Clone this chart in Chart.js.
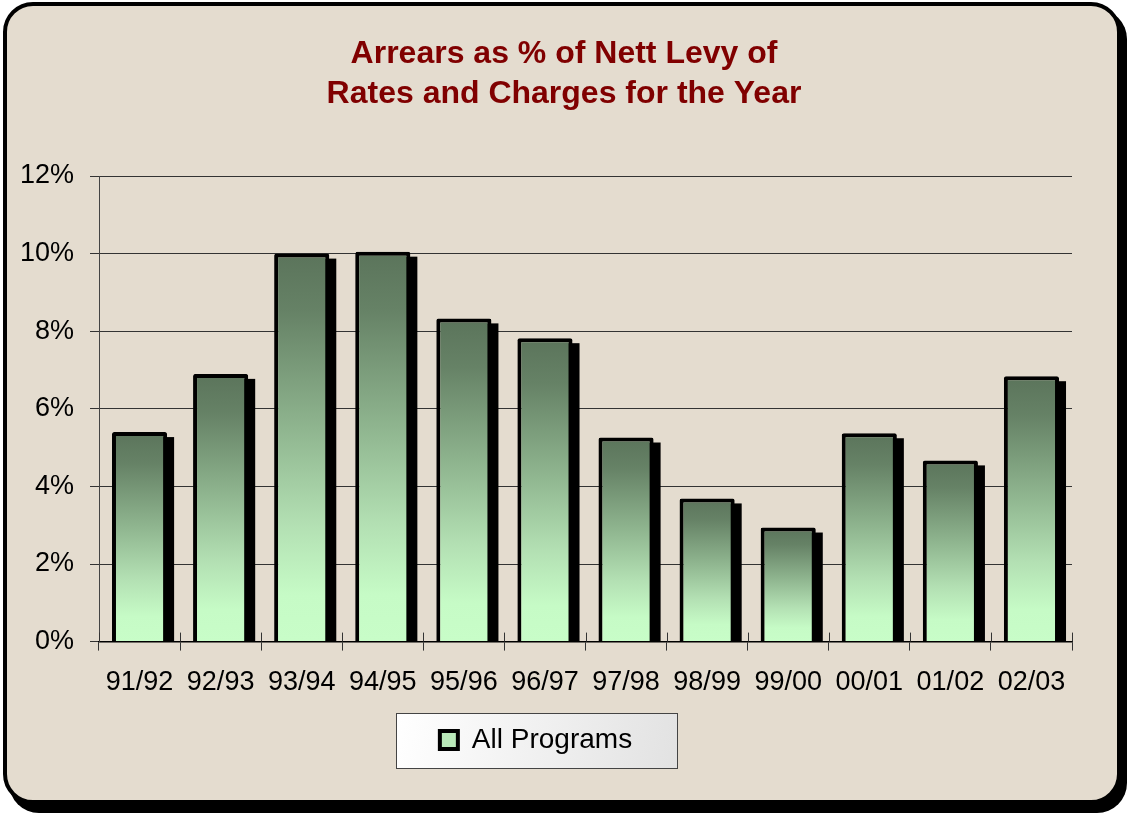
<!DOCTYPE html>
<html>
<head>
<meta charset="utf-8">
<script src="https://cdn.jsdelivr.net/npm/chart.js@4.4.1/dist/chart.umd.min.js"></script>
<style>
  html, body { margin: 0; padding: 0; background: #fff; }
  #wrap { position: relative; width: 1130px; height: 814px; }
</style>
</head>
<body>
<div id="wrap"><canvas id="arrears-chart"></canvas></div>
<script>
// data (percent)
const years = ['91/92', '92/93', '93/94', '94/95', '95/96', '96/97', '97/98', '98/99', '99/00', '00/01', '01/02', '02/03'];
const arrearsPct = [5.4, 6.9, 10.0, 10.05, 8.33, 7.82, 5.26, 3.69, 2.94, 5.37, 4.67, 6.84];
const yTicks = [0, 2, 4, 6, 8, 10, 12];
const seriesName = 'All Programs';
const titleLines = ['Arrears as % of Nett Levy of', 'Rates and Charges for the Year'];

const FONT = '"Liberation Sans", Arial, sans-serif';
const LIGHT_GREEN = '#c6fbc6';

// dark green at top fading to mint at the bottom, per bar
function barGradient(context) {
    const chart = context.chart;
    if (!chart.chartArea || context.dataIndex === undefined) return LIGHT_GREEN;
    const yScale = chart.scales.y;
    const top = yScale.getPixelForValue(context.raw);
    const bottom = yScale.getPixelForValue(0);
    const g = chart.ctx.createLinearGradient(0, top, 0, bottom);
    g.addColorStop(0, '#5b745b');
    g.addColorStop(0.15, '#668266');
    g.addColorStop(0.45, '#8fb58f');
    g.addColorStop(0.7, '#b3e0b3');
    g.addColorStop(0.88, '#c6fbc6');
    g.addColorStop(1, '#c8fdc8');
    return g;
}

function roundRectPath(ctx, x, y, w, h, r) {
    ctx.beginPath();
    ctx.moveTo(x + r, y);
    ctx.lineTo(x + w - r, y);
    ctx.arcTo(x + w, y, x + w, y + r, r);
    ctx.lineTo(x + w, y + h - r);
    ctx.arcTo(x + w, y + h, x + w - r, y + h, r);
    ctx.lineTo(x + r, y + h);
    ctx.arcTo(x, y + h, x, y + h - r, r);
    ctx.lineTo(x, y + r);
    ctx.arcTo(x, y, x + r, y, r);
    ctx.closePath();
}

// rounded beige frame with a drop shadow, plus the legend's box
const framePlugin = {
    id: 'frame',
    // title sits a bit right of the legend in the original
    afterLayout(chart) {
        if (chart.titleBlock) chart.titleBlock.left = 56;
    },
    beforeDraw(chart) {
        const ctx = chart.ctx;
        ctx.save();
        ctx.fillStyle = '#fff';
        ctx.fillRect(0, 0, chart.width, chart.height);
        ctx.fillStyle = '#000';
        roundRectPath(ctx, 9, 9, 1118, 804, 30);
        ctx.fill();
        roundRectPath(ctx, 5, 4, 1114, 798, 28);
        ctx.fillStyle = '#e4dccf';
        ctx.fill();
        ctx.lineWidth = 4;
        ctx.strokeStyle = '#000';
        ctx.stroke();

        const hb = chart.legend && chart.legend.legendHitBoxes && chart.legend.legendHitBoxes[0];
        if (hb) {
            const cx = hb.left + hb.width / 2;
            const cy = hb.top + hb.height / 2;
            const w = 281, h = 55;
            const x = Math.round(cx - w / 2) + 0.5, y = Math.round(cy - h / 2) + 0.5;
            const g = ctx.createLinearGradient(x, y, x + w, y + h);
            g.addColorStop(0, '#ffffff');
            g.addColorStop(1, '#e2e2e2');
            ctx.fillStyle = g;
            ctx.fillRect(x, y, w, h);
            ctx.lineWidth = 1;
            ctx.strokeStyle = '#444';
            ctx.strokeRect(x, y, w, h);
        }
        ctx.restore();
    }
};

// black offset shadow behind every bar
const barShadowPlugin = {
    id: 'barShadow',
    beforeDatasetsDraw(chart) {
        const ctx = chart.ctx;
        const area = chart.chartArea;
        ctx.save();
        ctx.beginPath();
        ctx.rect(area.left, area.top - 10, area.right - area.left + 10, area.bottom - area.top + 10);
        ctx.clip();
        ctx.fillStyle = '#000';
        chart.getDatasetMeta(0).data.forEach(bar => {
            const p = bar.getProps(['x', 'y', 'width', 'base'], true);
            ctx.fillRect(p.x - p.width / 2 + 7, p.y + 5, p.width, p.base - p.y - 5);
        });
        ctx.restore();
    },
    // category tick marks cross the axis line
    afterDatasetsDraw(chart) {
        const ctx = chart.ctx;
        const xs = chart.scales.x;
        const step = (xs.right - xs.left) / years.length;
        ctx.save();
        ctx.strokeStyle = '#333';
        ctx.lineWidth = 1;
        ctx.beginPath();
        for (let i = 0; i <= years.length; i++) {
            const x = Math.round(xs.left + i * step) + 0.5;
            ctx.moveTo(x, xs.top - 9);
            ctx.lineTo(x, xs.top);
        }
        ctx.stroke();
        ctx.restore();
    }
};

const ctx = document.getElementById('arrears-chart').getContext('2d');
new Chart(ctx, {
    type: 'bar',
    data: {
        labels: years,
        datasets: [{
            label: seriesName,
            data: arrearsPct,
            backgroundColor: barGradient,
            borderColor: '#000',
            borderWidth: 4,
            borderSkipped: 'bottom',
            borderRadius: 2,
            barPercentage: 0.68,
            categoryPercentage: 1.0
        }]
    },
    options: {
        responsive: true,
        maintainAspectRatio: false,
        animation: false,
        devicePixelRatio: 1,
        layout: { padding: { left: 0, right: 58, top: 0, bottom: 50 } },
        plugins: {
            title: {
                display: true,
                text: titleLines,
                color: '#800000',
                font: { family: FONT, size: 32, weight: 'bold', lineHeight: 1.25 },
                padding: { top: 34, bottom: 62 }
            },
            legend: {
                position: 'bottom',
                labels: {
                    color: '#000',
                    font: { family: FONT, size: 28 },
                    boxWidth: 18,
                    boxHeight: 18,
                    padding: 11,
                    generateLabels: () => [{
                        text: seriesName,
                        fillStyle: '#b9e9b9',
                        strokeStyle: '#000',
                        lineWidth: 4,
                        hidden: false,
                        datasetIndex: 0
                    }]
                }
            },
            tooltip: { enabled: false }
        },
        scales: {
            x: {
                offset: true,
                grid: { drawOnChartArea: false, tickLength: 9, color: '#333', offset: true },
                border: { color: '#000', width: 1.5 },
                ticks: { color: '#000', font: { family: FONT, size: 27 }, padding: 16, maxRotation: 0 }
            },
            y: {
                min: 0,
                max: 12,
                afterBuildTicks: scale => { scale.ticks = yTicks.map(v => ({ value: v })); },
                afterFit: scale => { scale.width = 99; },
                grid: { color: '#333', lineWidth: 1, tickLength: 9 },
                border: { color: '#444', width: 1 },
                ticks: {
                    color: '#000',
                    font: { family: FONT, size: 27 },
                    padding: 16,
                    callback: v => v + '%'
                }
            }
        }
    },
    plugins: [framePlugin, barShadowPlugin]
});
</script>
</body>
</html>
